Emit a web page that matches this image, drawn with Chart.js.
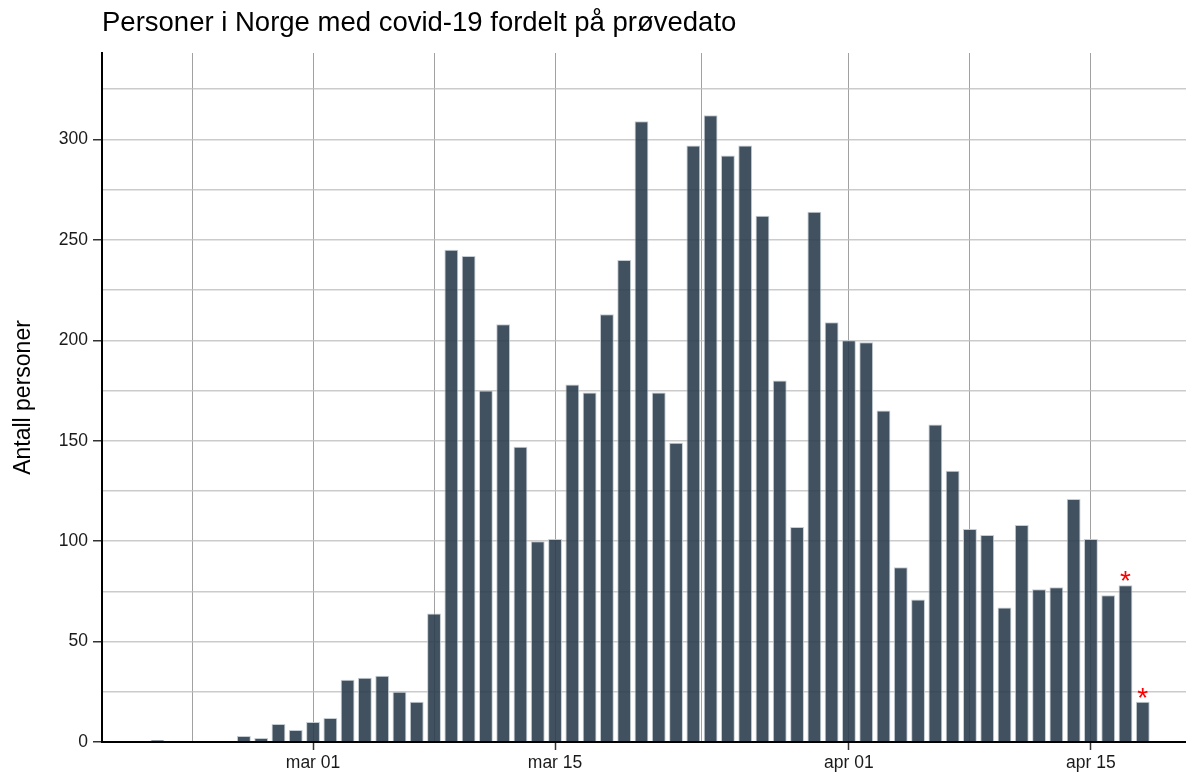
<!DOCTYPE html>
<html>
<head>
<meta charset="utf-8">
<script src="https://cdn.jsdelivr.net/npm/chart.js@4.4.1/dist/chart.umd.min.js"></script>
<style>
  html, body { margin: 0; padding: 0; background: #fff; }
  #wrap { width: 1186px; height: 774px; position: relative; }
</style>
</head>
<body>
<div id="wrap"><canvas id="c" width="1186" height="774"></canvas></div>
<script>
// ---- data ----
const titleText = 'Personer i Norge med covid-19 fordelt på prøvedato';
const yTitle = 'Antall personer';
const dates = [
  '2020-02-21','2020-02-26','2020-02-27','2020-02-28','2020-02-29',
  '2020-03-01','2020-03-02','2020-03-03','2020-03-04','2020-03-05','2020-03-06','2020-03-07',
  '2020-03-08','2020-03-09','2020-03-10','2020-03-11','2020-03-12','2020-03-13','2020-03-14',
  '2020-03-15','2020-03-16','2020-03-17','2020-03-18','2020-03-19','2020-03-20','2020-03-21',
  '2020-03-22','2020-03-23','2020-03-24','2020-03-25','2020-03-26','2020-03-27','2020-03-28',
  '2020-03-29','2020-03-30','2020-03-31','2020-04-01','2020-04-02','2020-04-03','2020-04-04',
  '2020-04-05','2020-04-06','2020-04-07','2020-04-08','2020-04-09','2020-04-10','2020-04-11',
  '2020-04-12','2020-04-13','2020-04-14','2020-04-15','2020-04-16','2020-04-17','2020-04-18'
];
const counts = [
  1, 3, 2, 9, 6,
  10, 12, 31, 32, 33, 25, 20,
  64, 245, 242, 175, 208, 147, 100,
  101, 178, 174, 213, 240, 309, 174,
  149, 297, 312, 292, 297, 262, 180,
  107, 264, 209, 200, 199, 165, 87,
  71, 158, 135, 106, 103, 67, 108,
  76, 77, 121, 101, 73, 78, 20
];
const flaggedDates = ['2020-04-17', '2020-04-18'];   // marked with red *
const xMajorDates = ['2020-03-01', '2020-03-15', '2020-04-01', '2020-04-15'];
const xMajorLabels = ['mar 01', 'mar 15', 'apr 01', 'apr 15'];
const xMinorDates = ['2020-02-23', '2020-03-08', '2020-03-23T12:00', '2020-04-08'];
const yMajorTicks = [0, 50, 100, 150, 200, 250, 300];
const yMinorTicks = [25, 75, 125, 175, 225, 275, 325];
const xRangeDates = ['2020-02-17T19:00', '2020-04-20T12:00'];
const yMax = 343;

// ---- helpers ----
const origin = Date.UTC(2020, 2, 1);
function dayOf(s) {
  const d = new Date(s + (s.length === 10 ? 'T00:00:00Z' : ':00Z'));
  return (d.getTime() - origin) / 86400000;
}
const points = dates.map((d, i) => ({ x: dayOf(d), y: counts[i] }));
const xMajorVals = xMajorDates.map(dayOf);
const xMinorVals = xMinorDates.map(dayOf);
const xTickVals = [...xMajorVals, ...xMinorVals].sort((a, b) => a - b);
const yTickVals = [...yMajorTicks, ...yMinorTicks].sort((a, b) => a - b);

const font = "'Liberation Sans', Arial, Helvetica, sans-serif";

const asteriskPlugin = {
  id: 'asterisks',
  afterDatasetsDraw(chart) {
    const ctx = chart.ctx;
    const xs = chart.scales.x, ys = chart.scales.y;
    ctx.save();
    ctx.fillStyle = '#ff0000';
    ctx.font = `28px ${font}`;
    ctx.textAlign = 'center';
    ctx.textBaseline = 'alphabetic';
    flaggedDates.forEach(d => {
      const i = dates.indexOf(d);
      const px = xs.getPixelForValue(dayOf(d));
      const py = ys.getPixelForValue(counts[i]);
      ctx.fillText('*', px, py + 5);
    });
    ctx.restore();
  }
};

new Chart(document.getElementById('c'), {
  type: 'bar',
  data: {
    datasets: [{
      data: points,
      backgroundColor: 'rgba(44,62,78,0.9)',
      borderColor: 'rgba(190,200,206,0.9)',
      borderWidth: 1,
      barPercentage: 0.8,
      categoryPercentage: 1.0
    }]
  },
  options: {
    responsive: false,
    animation: false,
    layout: { padding: { left: 10, right: 0, top: 7, bottom: 0 } },
    plugins: {
      legend: { display: false },
      tooltip: { enabled: false },
      title: {
        display: true,
        text: titleText,
        align: 'start',
        fullSize: false,
        color: '#000',
        font: { family: font, size: 27.5, weight: 'normal' },
        padding: { top: 0, bottom: 13 }
      }
    },
    scales: {
      x: {
        type: 'linear',
        offset: false,
        min: dayOf(xRangeDates[0]),
        max: dayOf(xRangeDates[1]),
        afterBuildTicks(scale) {
          scale.ticks = xTickVals.map(v => ({ value: v }));
        },
        afterFit(scale) { scale.height = 32; },
        ticks: {
          autoSkip: false,
          maxRotation: 0,
          color: '#1a1a1a',
          font: { family: font, size: 17.5 },
          padding: 3,
          callback(value) {
            const k = xMajorVals.findIndex(v => Math.abs(v - value) < 1e-6);
            return k >= 0 ? xMajorLabels[k] : '';
          }
        },
        grid: {
          offset: false,
          color: 'rgba(130,130,130,0.75)',
          lineWidth: 1,
          tickLength: 8,
          tickWidth: 1.5,
          tickColor(ctx) {
            const v = ctx.tick ? ctx.tick.value : null;
            return xMajorVals.some(m => Math.abs(m - v) < 1e-6) ? '#333' : 'rgba(0,0,0,0)';
          }
        },
        border: { display: true, color: '#000', width: 2 }
      },
      y: {
        type: 'linear',
        min: 0,
        max: yMax,
        afterBuildTicks(scale) {
          scale.ticks = yTickVals.map(v => ({ value: v }));
        },
        afterFit(scale) { scale.width = 92; },
        title: {
          display: true,
          text: yTitle,
          color: '#000',
          font: { family: font, size: 23 },
          padding: 0
        },
        ticks: {
          autoSkip: false,
          color: '#1a1a1a',
          font: { family: font, size: 17.5 },
          padding: 5,
          callback(value) {
            return yMajorTicks.includes(value) ? String(value) : '';
          }
        },
        grid: {
          color: 'rgba(190,190,190,0.8)',
          lineWidth: 1.5,
          tickLength: 9,
          tickWidth: 1.5,
          tickColor(ctx) {
            const v = ctx.tick ? ctx.tick.value : null;
            return yMajorTicks.includes(v) ? '#333' : 'rgba(0,0,0,0)';
          }
        },
        border: { display: true, color: '#000', width: 2 }
      }
    }
  },
  plugins: [asteriskPlugin]
});
</script>
</body>
</html>
